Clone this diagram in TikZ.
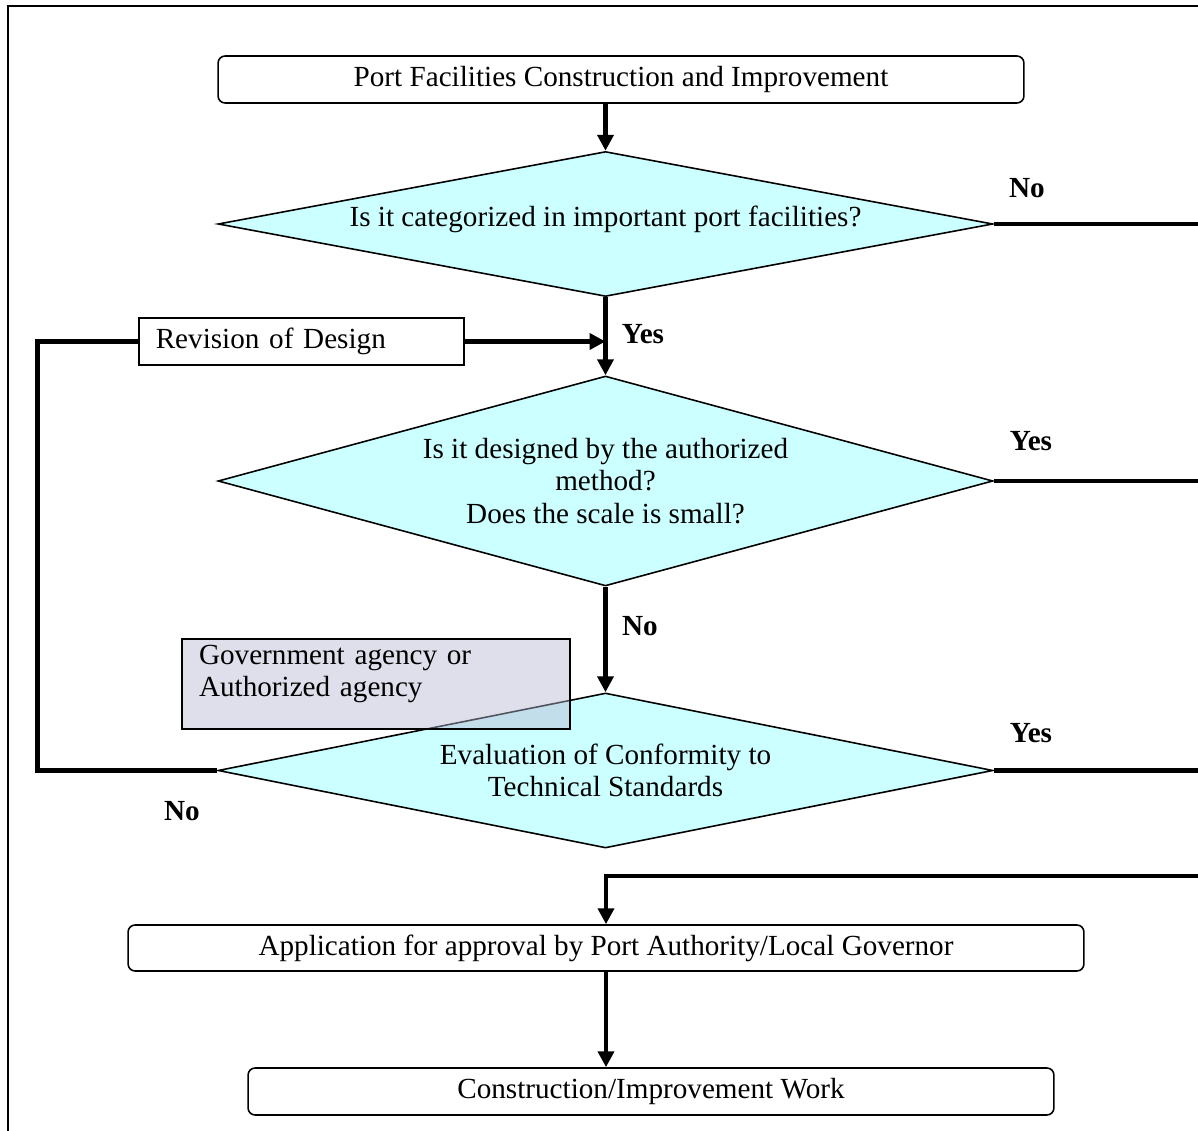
\documentclass[tikz,border=0pt]{standalone}
\usepackage{fontspec}
\setmainfont{Liberation Serif}
\usetikzlibrary{shapes.geometric, arrows.meta, positioning}
\definecolor{askfill}{HTML}{CCFFFF}
\definecolor{govfill}{HTML}{B8B8D4}

\begin{document}
\begin{tikzpicture}[x=0.02cm, y=-0.02cm,
    every node/.style={font=\fontsize{16.6}{18.3}\selectfont},
    box/.style={draw, rounded corners=4pt, line width=0.9pt, minimum height=0.94cm},
    ask/.style={draw, diamond, fill=askfill, line width=0.9pt, inner sep=0pt,
      minimum width=15.5cm, align=center},
    flow/.style={line width=2.6pt, -{Triangle[length=9pt,width=9pt]}},
    line/.style={line width=2.6pt},
    lbl/.style={font=\bfseries\fontsize{16.6}{18.3}\selectfont}]
      \useasboundingbox (0,0) rectangle (1198,1131);
      \draw[line width=1.2pt] (8,1131) -- (8,6) -- (1198,6);
      \coordinate (rgt) at (1198,0);

      \node[box, minimum width=16.12cm] (start) at (621,79.5) {Port Facilities Construction and Improvement};
      \node[ask, aspect=5.34, minimum height=2.9cm, text height=0.4cm, text depth=0.28cm] (q1) at (605.5,224) {Is it categorized in important port facilities?};
      \node[ask, aspect=3.69, minimum height=4.2cm] (q2) at (605.5,481) {Is it designed by the authorized\\method?\\Does the scale is small?};
      \node[ask, aspect=5, minimum height=3.1cm] (q3) at (605.5,770.5) {Evaluation of Conformity to\\Technical Standards};
      \node[draw, line width=0.9pt, anchor=west, minimum height=0.94cm, text width=5.82cm,
        inner xsep=0.34cm, align=left] (rev) at (138,341.5) {Revision of Design};
      \node[draw, line width=1.2pt, fill=govfill, fill opacity=0.45, text opacity=1, anchor=north west,
        minimum height=1.8cm, text width=7.08cm, inner xsep=0.34cm, align=left] (gov) at (181,638)
        {Government agency or\\Authorized agency\\[-0.13cm]\mbox{}};
      \node[box, minimum width=19.12cm, minimum height=0.92cm] (app) at (606,948) {Application for approval by Port Authority/Local Governor};
      \node[box, minimum width=16.12cm] (work) at (651,1091.5) {Construction/Improvement Work};

      \draw[flow] (q1.north |- start.south) -- (q1.north);
      \draw[flow] (q1.south) -- (q2.north);
      \draw[flow] (rev.east) -- (rev.east -| q1.south);
      \draw[line] (q3.west) -- ++(-180,0) |- (rev.west);
      \draw[flow] (q2.south) -- (q3.north);
      \draw[line] (q1.east) -- (q1.east -| rgt);
      \draw[line] (q2.east) -- (q2.east -| rgt);
      \draw[line] (q3.east) -- (q3.east -| rgt);
      \draw[flow] (1198,876) -| (app.north);
      \draw[flow] (app.south) -- (app.south |- work.north);

      \node[lbl] at (1027,188) {No};
      \node[lbl] at (643,334) {Yes};
      \node[lbl] at (1031,441) {Yes};
      \node[lbl] at (640,626) {No};
      \node[lbl] at (1031,733) {Yes};
      \node[lbl] at (182,811) {No};
    \end{tikzpicture}
\end{document}
